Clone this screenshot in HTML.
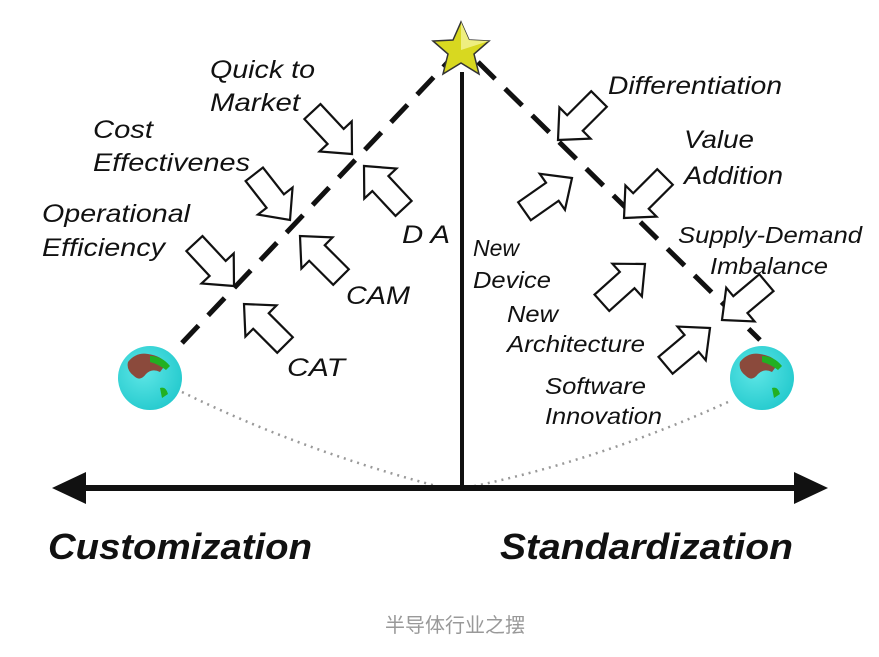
<!DOCTYPE html>
<html><head><meta charset="utf-8"><style>
html,body{margin:0;padding:0;background:#fff}
svg{display:block}
.t{font-family:"Liberation Sans",sans-serif;font-style:italic;font-size:25px;fill:#111}
.b{font-family:"Liberation Sans",sans-serif;font-style:italic;font-weight:bold;font-size:36px;fill:#111}
</style></head><body>
<svg width="879" height="657" viewBox="0 0 879 657" xmlns="http://www.w3.org/2000/svg">
<defs>
<path id="ar" d="M0,0 L-24,-22 L-24,-11 L-58,-11 L-58,11 L-24,11 L-24,22 Z" fill="#fff" stroke="#111" stroke-width="2.2" stroke-linejoin="miter"/>
<radialGradient id="g" cx="0.4" cy="0.4" r="0.7"><stop offset="0" stop-color="#5ee6e6"/><stop offset="1" stop-color="#20c8cc"/></radialGradient>
</defs>
<path d="M182,392 Q300,450 440,487" fill="none" stroke="#999" stroke-width="2.5" stroke-dasharray="2,5"/>
<path d="M728,402 Q600,460 470,487" fill="none" stroke="#999" stroke-width="2.5" stroke-dasharray="2,5"/>
<line x1="182" y1="343" x2="448" y2="62" stroke="#111" stroke-width="5" stroke-dasharray="24,14"/>
<line x1="478" y1="62" x2="760" y2="340" stroke="#111" stroke-width="5" stroke-dasharray="24,14"/>
<line x1="462" y1="72" x2="462" y2="490" stroke="#111" stroke-width="4"/>
<line x1="80" y1="488" x2="800" y2="488" stroke="#111" stroke-width="6"/>
<polygon points="52,488 86,472 86,504" fill="#111"/>
<polygon points="828,488 794,472 794,504" fill="#111"/>
<polygon points="461,22 469,40 489,41 474,54 479,74 461,63 443,74 448,54 433,41 453,40" fill="#d8d820" stroke="#333" stroke-width="1.5"/>
<polygon points="461,22 469,40 489,41 461,50" fill="#eeee80"/>
<g><circle cx="150" cy="378" r="32" fill="url(#g)"/>
<path d="M128,362 q8,-10 20,-8 q14,2 18,10 l-6,8 q-8,-4 -14,2 q-6,8 -12,2 q-8,-6 -6,-14z" fill="#8b4a3c"/>
<path d="M150,356 q12,0 20,10 l-4,4 q-8,-6 -16,-8z M160,388 q6,-2 8,6 l-6,4z" fill="#22b022"/></g>
<g><circle cx="762" cy="378" r="32" fill="url(#g)"/>
<path d="M740,362 q8,-10 20,-8 q14,2 18,10 l-6,8 q-8,-4 -14,2 q-6,8 -12,2 q-8,-6 -6,-14z" fill="#8b4a3c"/>
<path d="M762,356 q12,0 20,10 l-4,4 q-8,-6 -16,-8z M772,388 q6,-2 8,6 l-6,4z" fill="#22b022"/></g>
<use href="#ar" transform="translate(352,154) rotate(47)"/>
<use href="#ar" transform="translate(290,220) rotate(52)"/>
<use href="#ar" transform="translate(234,286) rotate(47)"/>
<use href="#ar" transform="translate(364,166) rotate(-133)"/>
<use href="#ar" transform="translate(300,236) rotate(-135)"/>
<use href="#ar" transform="translate(244,304) rotate(-135)"/>
<use href="#ar" transform="translate(558,140) rotate(135)"/>
<use href="#ar" transform="translate(624,218) rotate(135)"/>
<use href="#ar" transform="translate(722,320) rotate(140)"/>
<use href="#ar" transform="translate(572,178) rotate(-35)"/>
<use href="#ar" transform="translate(645,264) rotate(-42)"/>
<use href="#ar" transform="translate(710,328) rotate(-40)"/>
<text class="t" x="210" y="78" textLength="105" lengthAdjust="spacingAndGlyphs">Quick to</text>
<text class="t" x="210" y="111" textLength="90" lengthAdjust="spacingAndGlyphs">Market</text>
<text class="t" x="93" y="138" textLength="60" lengthAdjust="spacingAndGlyphs">Cost</text>
<text class="t" x="93" y="171" textLength="157" lengthAdjust="spacingAndGlyphs">Effectivenes</text>
<text class="t" x="42" y="222" textLength="148" lengthAdjust="spacingAndGlyphs">Operational</text>
<text class="t" x="42" y="256" textLength="123" lengthAdjust="spacingAndGlyphs">Efficiency</text>
<text class="t" x="402" y="243" textLength="48" lengthAdjust="spacingAndGlyphs">D A</text>
<text class="t" x="346" y="304" textLength="64" lengthAdjust="spacingAndGlyphs">CAM</text>
<text class="t" x="287" y="376" textLength="58" lengthAdjust="spacingAndGlyphs">CAT</text>
<text class="t" x="608" y="94" textLength="174" lengthAdjust="spacingAndGlyphs">Differentiation</text>
<text class="t" x="684" y="148" textLength="70" lengthAdjust="spacingAndGlyphs">Value</text>
<text class="t" x="684" y="184" textLength="99" lengthAdjust="spacingAndGlyphs">Addition</text>
<text class="t" x="678" y="243" textLength="184" lengthAdjust="spacingAndGlyphs" style="font-size:23px">Supply-Demand</text>
<text class="t" x="710" y="274" textLength="118" lengthAdjust="spacingAndGlyphs" style="font-size:23px">Imbalance</text>
<text class="t" x="473" y="256" textLength="46" lengthAdjust="spacingAndGlyphs" style="font-size:23px">New</text>
<text class="t" x="473" y="288" textLength="78" lengthAdjust="spacingAndGlyphs" style="font-size:23px">Device</text>
<text class="t" x="507" y="322" textLength="51" lengthAdjust="spacingAndGlyphs" style="font-size:23px">New</text>
<text class="t" x="507" y="352" textLength="138" lengthAdjust="spacingAndGlyphs" style="font-size:23px">Architecture</text>
<text class="t" x="545" y="394" textLength="101" lengthAdjust="spacingAndGlyphs" style="font-size:23px">Software</text>
<text class="t" x="545" y="424" textLength="117" lengthAdjust="spacingAndGlyphs" style="font-size:23px">Innovation</text>
<text class="b" x="48" y="559" textLength="264" lengthAdjust="spacingAndGlyphs">Customization</text>
<text class="b" x="500" y="559" textLength="293" lengthAdjust="spacingAndGlyphs">Standardization</text>
<text x="455" y="632" text-anchor="middle" style="font-family:'Liberation Sans','Noto Sans CJK SC',sans-serif;font-size:20px;fill:#999">半导体行业之摆</text>
</svg>
</body></html>
